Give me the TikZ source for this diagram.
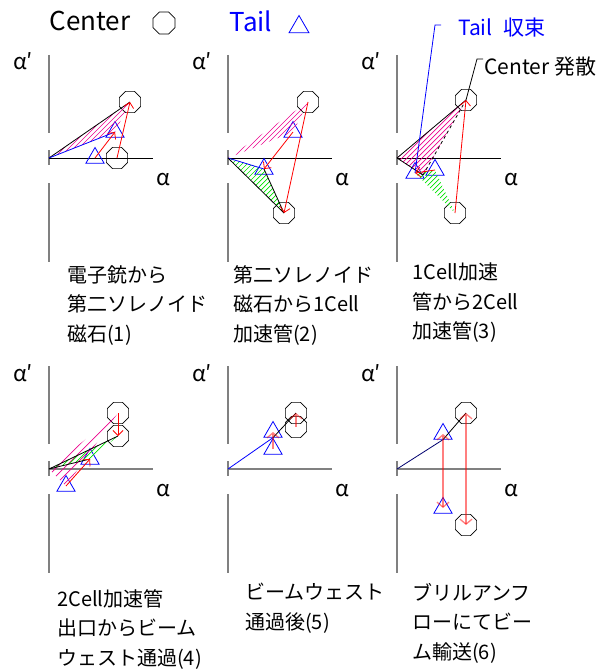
\documentclass[tikz,border=0pt]{standalone}
\usepackage{fontspec}
\setmainfont{Noto Sans CJK JP}
\usetikzlibrary{shapes.geometric,arrows.meta}
\definecolor{axgray}{RGB}{128,128,128}
\definecolor{hgreen}{RGB}{0,225,0}
\definecolor{navyline}{RGB}{0,0,110}
\tikzset{
 oct/.style={draw=black, line width=0.7pt, regular polygon, regular polygon sides=8, minimum size=23pt, inner sep=0pt},
 tri/.style={draw=blue, line width=0.8pt, regular polygon, regular polygon sides=3, minimum size=21pt, inner sep=0pt},
 vaxis/.style={draw=axgray, line width=1.6pt},
 haxisA/.style={draw=black, line width=0.9pt},
 haxisB/.style={draw=axgray, line width=1.6pt},
 alabel/.style={font=\fontsize{22}{22}\selectfont, inner sep=0pt},
 ptext/.style={font=\fontsize{20}{29.5}\selectfont, align=left, anchor=north west, inner sep=0pt},
 redarr/.style={draw=red, line width=0.8pt, -{Straight Barb[length=5pt,width=10pt]}},
 lredarr/.style={draw=red, draw opacity=0.5, line width=1.3pt, -{Straight Barb[length=5pt,width=12pt]}},
 lredboth/.style={draw=red, draw opacity=0.5, line width=1.3pt, {Straight Barb[length=5pt,width=12pt]}-{Straight Barb[length=5pt,width=12pt]}},
 blk/.style={draw=black, line width=0.8pt},
 bl/.style={draw=blue, line width=0.8pt},
 hm/.style={draw=magenta, line width=0.7pt},
 hg/.style={draw=hgreen, line width=0.7pt},
}
\newcommand\panelaxes[4]{%
  \coordinate (#1) at (#2,#3);
  \draw[vaxis] (#2,#3-103) -- (#2,#3-25);
  \draw[vaxis] (#2,#3-8) -- (#2,#3+7);
  \draw[vaxis] (#2,#3+25) -- (#2,#3+104);
  \draw[#4] (#1) -- (#2+104,#3);
  \node[alabel, anchor=base west] (#1ap) at (#2-36,#3-88) {α′};
  \node[alabel, anchor=base west] (#1a) at (#2+107,#3+27) {α};
}
\newcommand\hatchtri[5]{%
  \begin{scope}
    \clip (#2) -- (#3) -- (#4) -- cycle;
    \foreach \a in {#5} { \draw[#1] (#2) ++(\a,250) -- ++(500,-500); }
  \end{scope}}
\begin{document}
\begin{tikzpicture}[x=1pt,y=-1pt]
\useasboundingbox (0,0) rectangle (609,669);

% header
\node[font=\fontsize{26}{26}\selectfont, inner sep=0pt] (hcenter) at (90,21) {Center};
\node[oct, minimum size=24pt] (hoct) at (164,23) {};
\node[font=\fontsize{26}{26}\selectfont, inner sep=0pt, text=blue] (htail) at (251,21) {Tail};
\node[tri, minimum size=23pt] (htri) at (299,27) {};

% axes
\panelaxes{o1}{49}{158}{haxisA}
\panelaxes{o2}{228}{158}{haxisA}
\panelaxes{o3}{397}{158}{haxisA}
\panelaxes{o4}{49}{469}{haxisB}
\panelaxes{o5}{228}{469}{haxisB}
\panelaxes{o6}{397}{469}{haxisB}

% ---------- panel 1
\node[oct] (cA1) at (130,102) {};
\node[oct] (cB1) at (117,158) {};
\node[tri] (tA1) at (115,132) {};
\node[tri] (tB1) at (95,158) {};
\hatchtri{hm}{o1}{cA1.center}{tA1.center}{-500,-495,...,0}
\draw[blk] (o1) -- (cA1.center);
\draw[bl] (o1) -- (tA1.center);
\draw[redarr] (cB1.center) -- (cA1.center);
\draw[redarr] (tB1.center) -- (tA1.center);

% ---------- panel 2
\node[oct] (cA2) at (308,102) {};
\node[oct] (cB2) at (284,213) {};
\node[tri] (tA2) at (293,132) {};
\node[tri] (tB2) at (264,169) {};
\hatchtri{hm}{o2}{cA2.center}{tA2.center}{-500,-495,...,0}
\hatchtri{hg}{o2}{tB2.center}{cB2.center}{-500,-495,...,0}
\draw[bl] (o2) -- (tB2.center);
\draw[blk] (o2) -- (cB2.center);
\draw[blk] (tB2.center) -- (cB2.center);
\draw[redarr] (cA2.center) -- (cB2.center);
\draw[redarr] (tA2.center) -- (tB2.center);

% ---------- panel 3
\node[oct] (cA3) at (466,100) {};
\node[oct] (cB3) at (455,213) {};
\node[tri] (tA3) at (415,173) {};
\node[tri] (tB3) at (435,170) {};
\coordinate (m3) at (423,175);
\hatchtri{hm}{o3}{cA3.center}{m3}{-500,-495,...,0}
\hatchtri{hg}{tA3.center}{tB3.center}{cB3.center}{-500,-495,...,0}
\draw[blk] (o3) -- (cA3.center);
\draw[blk] (o3) -- (m3);
\draw[blk, dashed] (m3) -- (cA3.center);
\draw[redarr] (cB3.center) -- (cA3.center);
\draw[redarr] (tB3.center) -- (tA3.center);
\coordinate (tl3a) at (441,25);
\coordinate (tl3b) at (435,25);
\coordinate (cl3a) at (483,59);
\coordinate (cl3b) at (477,59);
\draw[bl] (tl3a) -- (tl3b) -- (tA3.center);
\draw[blk] (cl3a) -- (cl3b) -- (cA3.center);
\node[font=\fontsize{21}{21}\selectfont, inner sep=0pt, text=blue, anchor=west] (tailconv) at (458,28) {Tail\hspace{0.5em}収束};
\node[font=\fontsize{21}{21}\selectfont, inner sep=0pt, anchor=west] (centdiv) at (484,67) {Center 発散};

% ---------- panel 4
\node[oct] (cA4) at (118,413) {};
\node[oct] (cB4) at (118,436) {};
\node[tri] (tA4) at (90,459) {};
\node[tri] (tB4) at (66,486) {};
\hatchtri{hm}{o4}{cA4.center}{tB4.center}{-500,-492,...,0}
\hatchtri{hg}{o4}{cB4.center}{tA4.center}{-500,-495,...,0}
\draw[blk] (o4) -- (cB4.center);
\draw[blk] (o4) -- (tA4.center);
\draw[redarr] (cA4.center) -- (cB4.center);
\draw[redarr] (tB4.center) -- (tA4.center);

% ---------- panel 5
\node[oct] (cA5) at (296,413) {};
\node[oct] (cB5) at (296,427) {};
\node[tri] (tA5) at (273,432) {};
\node[tri] (tB5) at (273,449) {};
\draw[bl] (o5) -- (tA5.side 2);
\draw[blk] (tA5.side 2) -- (cA5.center);
\draw[lredarr] (tB5.center) -- (tA5.center);
\draw[lredarr] (cB5.center) -- (cA5.center);

% ---------- panel 6
\node[oct] (cA6) at (466,413) {};
\node[oct] (cB6) at (466,525) {};
\node[tri] (tA6) at (443,434) {};
\node[tri] (tB6) at (443,508) {};
\draw[draw=navyline, line width=0.8pt] (o6) -- (tA6.side 2);
\draw[blk] (tA6.side 2) -- (cA6.center);
\draw[lredboth] (tA6.center) -- (tB6.center);
\draw[lredboth] (cA6.center) -- (cB6.center);

% ---------- captions
\node[ptext] (cap1) at (67,265) {電子銃から\\第二ソレノイド\\磁石(1)};
\node[ptext] (cap2) at (233,265) {第二ソレノイド\\磁石から1Cell\\加速管(2)};
\node[ptext] (cap3) at (412,263) {1Cell加速\\管から2Cell\\加速管(3)};
\node[ptext] (cap4) at (57,589) {2Cell加速管\\出口からビーム\\ウェスト通過(4)};
\node[ptext] (cap5) at (245,583) {ビームウェスト\\通過後(5)};
\node[ptext] (cap6) at (412,583) {ブリルアンフ\\ローにてビー\\ム輸送(6)};
\end{tikzpicture}
\end{document}
